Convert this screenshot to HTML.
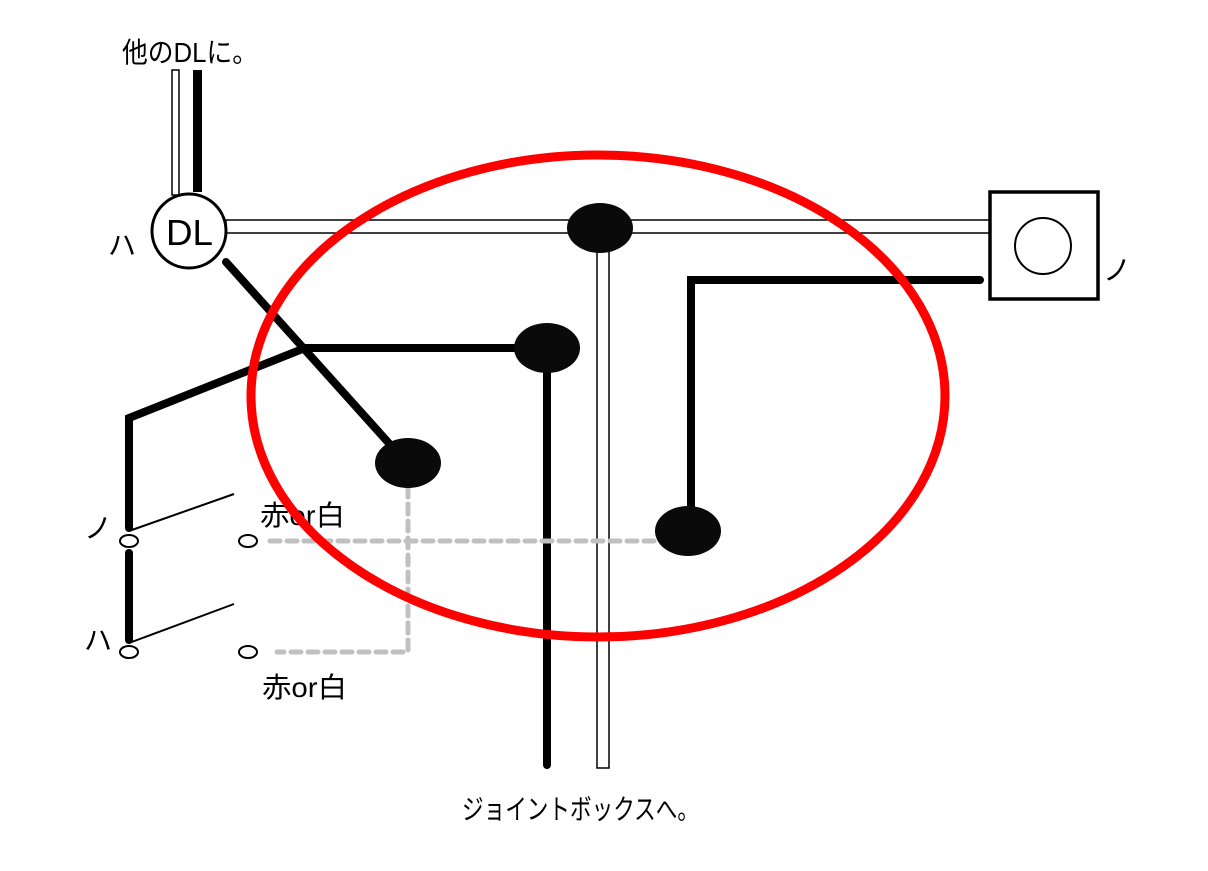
<!DOCTYPE html>
<html><head><meta charset="utf-8"><style>
html,body{margin:0;padding:0;background:#fff;}
svg text{font-family:"Liberation Sans","Noto Sans CJK JP",sans-serif;fill:#000;}
</style></head><body>
<svg width="1208" height="866" viewBox="0 0 1208 866" xmlns="http://www.w3.org/2000/svg">
<rect width="1208" height="866" fill="#fff"/>
<text x="122" y="62" font-size="28" textLength="136" lengthAdjust="spacingAndGlyphs">他のDLに。</text>
<rect x="172" y="70" width="7" height="125" fill="#fff" stroke="#000" stroke-width="1.5"/>
<rect x="193" y="70" width="9" height="122" fill="#000"/>
<rect x="226" y="220" width="766" height="13" fill="#fff" stroke="#000" stroke-width="1.5"/>
<rect x="597" y="230" width="12" height="538" fill="#fff" stroke="#000" stroke-width="1.5"/>
<circle cx="189" cy="231" r="37" fill="#fff" stroke="#000" stroke-width="3"/>
<text x="166" y="245" font-size="36" textLength="47" lengthAdjust="spacingAndGlyphs">DL</text>
<text x="108" y="255" font-size="28">ハ</text>
<rect x="990" y="192" width="108" height="107" fill="#fff" stroke="#000" stroke-width="3.5"/>
<circle cx="1043" cy="246" r="28" fill="#fff" stroke="#000" stroke-width="2"/>
<text x="1103" y="280" font-size="28">ノ</text>
<g stroke="#000" stroke-width="8" fill="none" stroke-linecap="round" stroke-linejoin="miter">
<line x1="226" y1="262" x2="395" y2="450"/>
<polyline points="547,348 305,348 129,418 129,528"/>
<line x1="547" y1="348" x2="547" y2="765"/>
<polyline points="691,525 691,280 980,280"/>
<line x1="129" y1="553" x2="129" y2="640"/>
</g>
<g stroke="#000" stroke-width="2">
<line x1="129" y1="531" x2="234" y2="494"/>
<line x1="129" y1="643" x2="234" y2="604"/>
</g>
<g stroke="#c0c0c0" stroke-width="5" fill="none" stroke-dasharray="10 7" stroke-linecap="round">
<line x1="270" y1="541" x2="660" y2="541"/>
<polyline points="408,487 408,652 277,652"/>
</g>
<g fill="#fff" stroke="#000" stroke-width="2">
<ellipse cx="129" cy="541" rx="9" ry="6"/>
<ellipse cx="248" cy="541" rx="9" ry="6"/>
<ellipse cx="129" cy="652" rx="9" ry="6"/>
<ellipse cx="248" cy="652" rx="9" ry="6"/>
</g>
<g fill="#0a0a0a">
<ellipse cx="600" cy="228" rx="33" ry="25"/>
<ellipse cx="547" cy="348" rx="33" ry="25"/>
<ellipse cx="408" cy="463" rx="33" ry="25"/>
<ellipse cx="688" cy="531" rx="33" ry="25"/>
</g>
<text x="84" y="538" font-size="28">ノ</text>
<text x="84" y="650" font-size="28">ハ</text>
<text x="260" y="525" font-size="28" textLength="85" lengthAdjust="spacingAndGlyphs">赤or白</text>
<text x="262" y="697" font-size="28" textLength="85" lengthAdjust="spacingAndGlyphs">赤or白</text>
<text x="462" y="819" font-size="28" textLength="237" lengthAdjust="spacingAndGlyphs">ジョイントボックスへ。</text>
<ellipse cx="598" cy="396" rx="347" ry="241" fill="none" stroke="#ff0000" stroke-width="9"/>
</svg>
</body></html>
